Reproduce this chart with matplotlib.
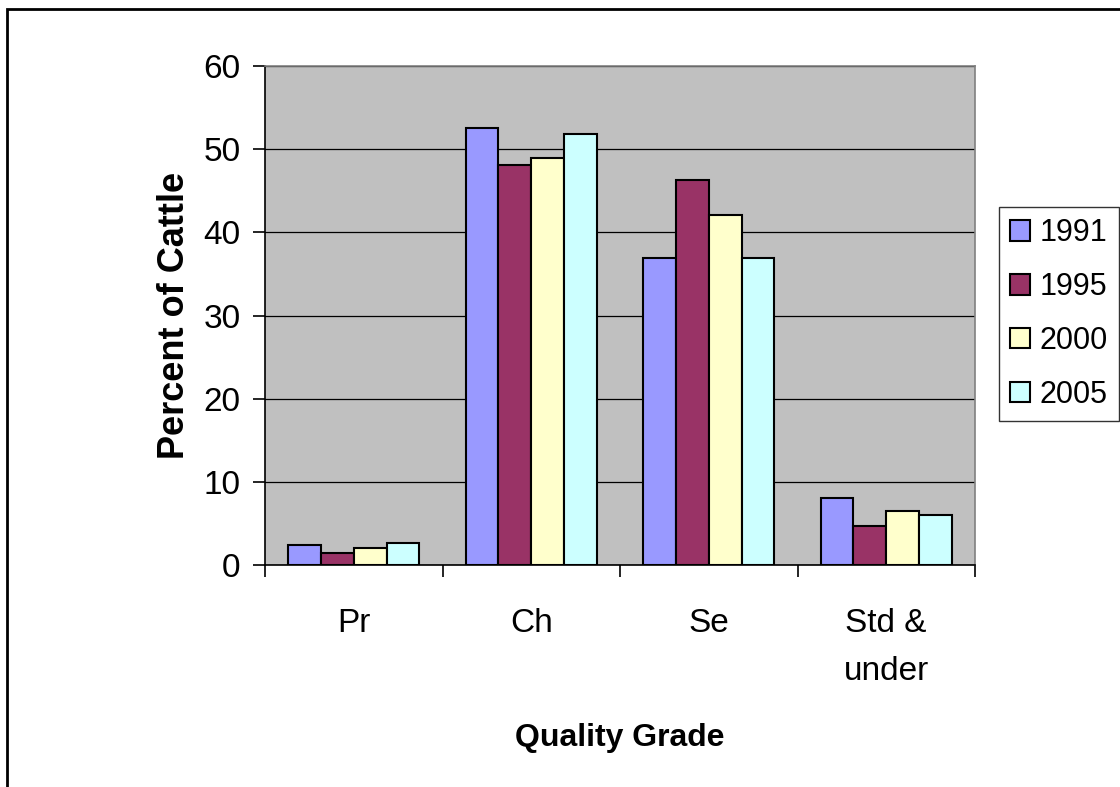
import matplotlib

matplotlib.use("Agg")

import matplotlib.pyplot as plt  # noqa: E402
import numpy as np  # noqa: E402
from matplotlib.patches import Rectangle  # noqa: E402

# quality grade shares, percent of cattle
grades = ["Pr", "Ch", "Se", "Std &\nunder"]
years = ["1991", "1995", "2000", "2005"]
pct_1991 = [2.4, 52.6, 36.9, 8.0]
pct_1995 = [1.5, 48.1, 46.3, 4.7]
pct_2000 = [2.0, 48.9, 42.1, 6.5]
pct_2005 = [2.6, 51.8, 36.9, 6.0]
colors = ["#9999FF", "#993366", "#FFFFCC", "#CCFFFF"]

plt.rcParams["font.family"] = ["Liberation Sans", "DejaVu Sans"]

fig = plt.figure(figsize=(11.2, 7.87), dpi=100)
# outer chart frame
fig.patches.append(Rectangle((7 / 1120, -0.1), 1.2, 1 - 9 / 787 + 0.1,
                             transform=fig.transFigure, fill=False,
                             edgecolor="black", linewidth=2))

ax = fig.add_axes([265 / 1120, 1 - 565 / 787, 710 / 1120, 499 / 787])
ax.set_facecolor("#C0C0C0")

x = np.arange(len(grades))
width = 0.185
series = [pct_1991, pct_1995, pct_2000, pct_2005]
for i, (vals, lab, col) in enumerate(zip(series, years, colors)):
    ax.bar(x + (i - 1.5) * width, vals, width, color=col, edgecolor="black",
           linewidth=1.5, label=lab, zorder=3)

ax.set_xlim(-0.5, len(grades) - 0.5)
ax.set_ylim(0, 60)
ax.set_yticks(range(0, 61, 10))
ax.yaxis.grid(True, color="black", linewidth=0.9, zorder=1)
ax.set_axisbelow(True)

ax.set_xticks(x)
ax.set_xticklabels(grades, fontsize=24, linespacing=1.7)
ax.set_xticks(np.arange(-0.5, len(grades), 1), minor=True)
ax.tick_params(axis="x", which="major", length=0, pad=31)
ax.tick_params(axis="x", which="minor", length=8.5, width=1.2, color="black")
ax.tick_params(axis="y", labelsize=24, length=8.5, width=1.2, pad=9)

for side in ("top", "right"):
    ax.spines[side].set_color("#808080")
    ax.spines[side].set_linewidth(1.2)
ax.spines["left"].set_linewidth(1.2)
ax.spines["bottom"].set_linewidth(1.2)

ax.set_ylabel("Percent of Cattle", fontsize=26, fontweight="bold", labelpad=8)
ax.set_xlabel("Quality Grade", fontsize=23, fontweight="bold", labelpad=26)

leg = ax.legend(loc="center left", bbox_to_anchor=(999 / 1120, 1 - 314 / 787),
                bbox_transform=fig.transFigure, fontsize=22, frameon=True,
                fancybox=False, edgecolor="black", handlelength=0.65,
                handleheight=0.65, handletextpad=0.33, labelspacing=0.78,
                borderpad=0.36, borderaxespad=0)
leg.get_frame().set_linewidth(1.0)

fig.savefig("out.png", dpi=100)
